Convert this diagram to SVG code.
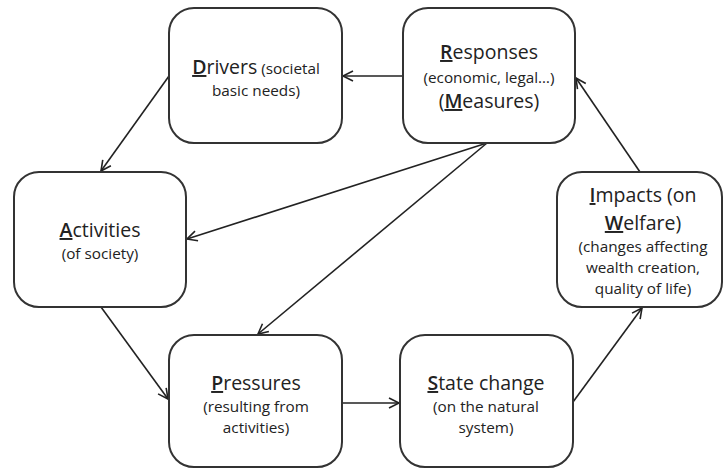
<svg xmlns="http://www.w3.org/2000/svg" width="724" height="470" viewBox="0 0 724 470">
<style>
.box{fill:#fff;stroke:#333;stroke-width:2}
text{font-family:"Open Sans","Liberation Sans",sans-serif;fill:#222;text-anchor:middle}
.t{font-size:19.5px}
.s{font-size:15.3px}
.k{font-weight:600;text-decoration:underline}
.c{stroke:#222;stroke-width:1.6;fill:none;marker-end:url(#arr)}
</style>
<defs>
<marker id="arr" viewBox="-12 -7 14 14" refX="0" refY="0" markerWidth="14" markerHeight="14" markerUnits="userSpaceOnUse" orient="auto">
<path d="M-10,-5 L0,0 L-10,5" fill="none" stroke="#222" stroke-width="1.6"/>
</marker>
</defs>
<rect width="724" height="470" fill="#fff"/>
<g id="connectors">
<path class="c" d="M403,76 L343,76"/>
<path class="c" d="M169,76 L101,171"/>
<path class="c" d="M487,143 L187,239"/>
<path class="c" d="M487,143 L258,334"/>
<path class="c" d="M101,307 L168,399"/>
<path class="c" d="M342,403 L399,403"/>
<path class="c" d="M573,402 L642,308"/>
<path class="c" d="M640,172 L576,78"/>
</g>
<g id="drivers">
<rect class="box" x="169" y="8" width="173" height="135" rx="25"/>
<text x="256" y="74"><tspan class="t"><tspan class="k">D</tspan>rivers</tspan><tspan class="s"> (societal</tspan></text>
<text class="s" x="256" y="96">basic needs)</text>
</g>
<g id="responses">
<rect class="box" x="403" y="8" width="172" height="135" rx="25"/>
<text class="t" x="489" y="59"><tspan class="k">R</tspan>esponses</text>
<text class="s" x="489" y="83">(economic, legal…)</text>
<text class="t" x="489" y="108">(<tspan class="k">M</tspan>easures)</text>
</g>
<g id="activities">
<rect class="box" x="14" y="172" width="172" height="135" rx="25"/>
<text class="t" x="100" y="237"><tspan class="k">A</tspan>ctivities</text>
<text class="s" x="100" y="259">(of society)</text>
</g>
<g id="impacts">
<rect class="box" x="557" y="172" width="165" height="135" rx="25"/>
<text class="t" x="643" y="202"><tspan class="k">I</tspan>mpacts (on</text>
<text class="t" x="643" y="230"><tspan class="k">W</tspan>elfare)</text>
<text class="s" x="643" y="252">(changes affecting</text>
<text class="s" x="643" y="273">wealth creation,</text>
<text class="s" x="643" y="294">quality of life)</text>
</g>
<g id="pressures">
<rect class="box" x="169" y="335" width="173" height="132" rx="25"/>
<text class="t" x="256" y="390"><tspan class="k">P</tspan>ressures</text>
<text class="s" x="256" y="412">(resulting from</text>
<text class="s" x="256" y="433">activities)</text>
</g>
<g id="state">
<rect class="box" x="400" y="335" width="173" height="132" rx="25"/>
<text class="t" x="486" y="390"><tspan class="k">S</tspan>tate change</text>
<text class="s" x="486" y="412">(on the natural</text>
<text class="s" x="486" y="433">system)</text>
</g>
</svg>
